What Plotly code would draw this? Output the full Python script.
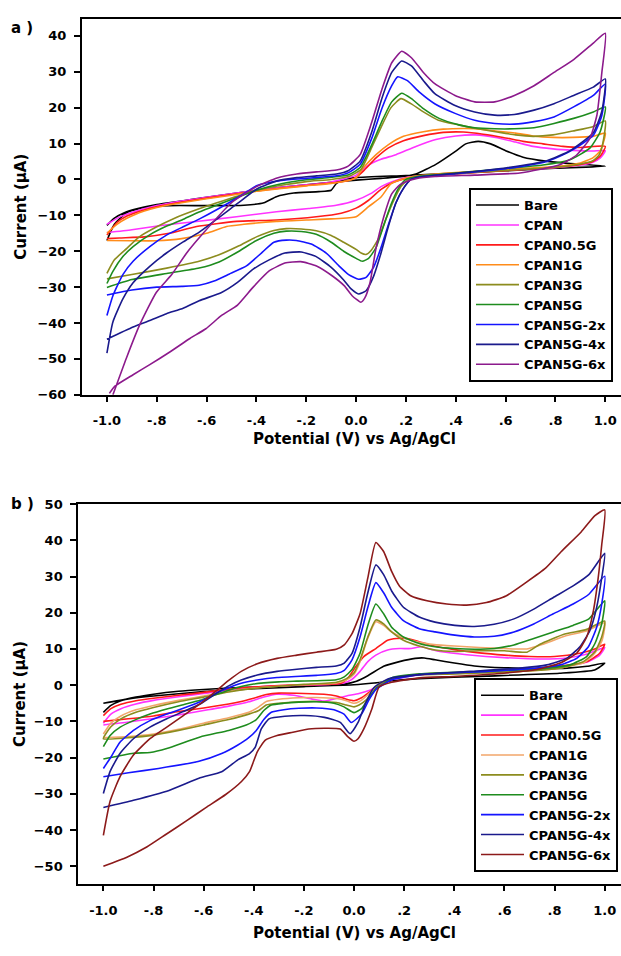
import plotly.graph_objects as go

# ---------------- Panel a data (potential V, current uA) ----------------
a_bare_E = [-1.0, -0.97, -0.93, -0.88, -0.8, -0.7, -0.6, -0.5, -0.4, -0.3, -0.2, -0.1, 0.0, 0.1, 0.2, 0.24, 0.32, 0.4, 0.44, 0.49, 0.54, 0.6, 0.67, 0.76, 0.86, 1.0,
            0.8, 0.6, 0.4, 0.2, 0.0, -0.05, -0.08, -0.1, -0.15, -0.25, -0.32, -0.37, -0.45, -0.6, -0.75, -0.85, -0.92, -0.97, -1.0]
a_bare_I = [-12.8, -10.8, -9.3, -8.2, -7.0, -6.0, -5.0, -4.0, -3.0, -2.2, -1.5, -0.8, -0.2, 0.3, 0.9, 1.5, 4.2, 7.9, 9.9, 10.6, 9.9, 8.0, 6.2, 5.1, 4.4, 3.7,
            3.1, 2.4, 1.8, 1.1, 0.5, 0.0, -1.2, -3.0, -3.4, -3.8, -4.8, -6.5, -7.2, -7.3, -7.3, -7.8, -9.2, -12.5, -17.0]

a_cpan_E = [-1.0, -0.95, -0.9, -0.8, -0.7, -0.6, -0.5, -0.4, -0.3, -0.2, -0.1, 0.0, 0.05, 0.1, 0.16, 0.24, 0.32, 0.4, 0.48, 0.56, 0.64, 0.71, 0.79, 0.87, 0.95, 1.0,
            0.98, 0.95, 0.9, 0.8, 0.7, 0.5, 0.3, 0.2, 0.15, 0.1, 0.06, 0.0, -0.08, -0.19, -0.32, -0.48, -0.64, -0.79, -0.9, -1.0]
a_cpan_I = [-12.5, -10.5, -9.2, -7.3, -6.0, -5.0, -4.0, -3.0, -2.2, -1.5, -0.7, 1.2, 4.0, 5.6, 6.9, 9.2, 11.1, 12.1, 12.4, 11.7, 10.4, 9.2, 8.5, 8.1, 7.9, 8.0,
            6.0, 4.8, 4.0, 3.3, 2.9, 2.2, 1.2, 0.5, -0.5, -2.0, -3.9, -5.8, -7.2, -8.1, -9.0, -10.4, -11.7, -12.9, -14.0, -14.8]

a_cpan05_E = [-1.0, -0.96, -0.92, -0.85, -0.8, -0.7, -0.6, -0.5, -0.4, -0.3, -0.2, -0.1, -0.03, 0.0, 0.03, 0.08, 0.13, 0.19, 0.27, 0.35, 0.43, 0.51, 0.59, 0.67, 0.75, 0.83, 0.9, 1.0,
              0.98, 0.95, 0.9, 0.8, 0.7, 0.5, 0.3, 0.2, 0.15, 0.1, 0.05, 0.0, -0.06, -0.16, -0.32, -0.48, -0.64, -0.75, -0.85, -0.95, -1.0]
a_cpan05_I = [-15.5, -12.0, -10.2, -8.5, -7.6, -6.3, -5.2, -4.2, -3.2, -2.4, -1.7, -1.0, -0.3, 0.6, 2.4, 6.0, 8.8, 10.8, 12.2, 13.1, 13.2, 12.6, 11.7, 10.6, 9.9, 9.2, 8.9, 9.2,
              6.5, 5.0, 4.2, 3.4, 2.9, 2.0, 1.0, 0.3, -0.8, -2.8, -5.8, -8.0, -9.4, -10.4, -11.3, -11.7, -13.1, -15.0, -16.0, -16.3, -16.5]

a_cpan1_E = [-1.0, -0.96, -0.92, -0.85, -0.8, -0.7, -0.6, -0.5, -0.4, -0.3, -0.2, -0.1, -0.03, 0.0, 0.03, 0.08, 0.13, 0.19, 0.27, 0.35, 0.43, 0.48, 0.56, 0.64, 0.71, 0.79, 0.87, 0.95, 1.0,
             0.98, 0.95, 0.9, 0.8, 0.6, 0.4, 0.25, 0.18, 0.14, 0.1, 0.05, 0.0, -0.1, -0.2, -0.32, -0.45, -0.52, -0.6, -0.7, -0.8, -0.9, -1.0]
a_cpan1_I = [-15.0, -12.5, -10.8, -8.8, -7.8, -6.5, -5.4, -4.4, -3.3, -2.5, -1.8, -1.1, -0.3, 0.5, 3.3, 6.9, 9.7, 12.0, 13.3, 14.0, 14.2, 14.1, 13.5, 12.9, 12.1, 11.7, 11.7, 12.0, 12.9,
             8.0, 6.0, 4.6, 3.6, 2.8, 1.9, 1.0, 0.0, -1.2, -4.9, -7.6, -10.4, -11.0, -11.3, -11.7, -12.5, -13.1, -15.0, -16.5, -17.1, -17.1, -17.0]

a_cpan3_E = [-1.0, -0.97, -0.92, -0.87, -0.8, -0.735, -0.63, -0.5, -0.4, -0.3, -0.2, -0.1, -0.03, 0.02, 0.06, 0.1, 0.14, 0.18, 0.22, 0.27, 0.33, 0.41, 0.48, 0.56, 0.64, 0.71, 0.79, 0.87, 0.95, 1.0,
             0.99, 0.975, 0.95, 0.9, 0.8, 0.6, 0.4, 0.25, 0.21, 0.18, 0.15, 0.12, 0.09, 0.06, 0.04, 0.02, 0.0, -0.05, -0.1, -0.16, -0.22, -0.28, -0.33, -0.4, -0.47, -0.55, -0.63, -0.76, -0.9, -1.0]
a_cpan3_I = [-26.2, -22.4, -19.2, -16.0, -13.2, -11.0, -8.2, -5.2, -3.0, -1.6, -0.6, 0.0, 0.8, 2.8, 8.5, 14.5, 20.0, 22.5, 21.1, 18.8, 16.5, 15.2, 14.2, 13.3, 12.4, 12.0, 12.4, 13.5, 14.7, 16.3,
             10.0, 6.8, 5.2, 4.3, 3.4, 2.5, 1.6, 0.8, 0.0, -2.0, -6.0, -11.0, -16.5, -19.8, -20.9, -20.5, -19.5, -17.5, -15.6, -14.3, -13.8, -13.7, -14.2, -16.0, -18.5, -21.0, -22.8, -24.7, -26.5, -27.7]

a_cpan5_E = [-1.0, -0.976, -0.936, -0.895, -0.83, -0.76, -0.69, -0.63, -0.5, -0.4, -0.3, -0.2, -0.1, -0.03, 0.016, 0.063, 0.103, 0.143, 0.183, 0.222, 0.27, 0.333, 0.413, 0.476, 0.556, 0.635, 0.714, 0.794, 0.873, 0.952, 1.0,
             0.979, 0.938, 0.858, 0.75, 0.6, 0.4, 0.25, 0.2, 0.17, 0.14, 0.11, 0.08, 0.05, 0.025, 0.0, -0.05, -0.1, -0.16, -0.22, -0.28, -0.33, -0.4, -0.47, -0.55, -0.63, -0.76, -0.9, -1.0]
a_cpan5_I = [-29.0, -25.6, -21.5, -18.7, -15.5, -13.0, -11.0, -9.1, -5.6, -3.0, -1.2, -0.1, 0.6, 1.3, 3.3, 9.7, 16.1, 21.6, 24.0, 22.5, 19.7, 17.0, 15.2, 14.4, 14.1, 14.1, 14.4, 15.6, 17.0, 18.8, 20.2,
             13.2, 8.7, 5.5, 4.0, 3.0, 1.8, 0.9, 0.0, -2.5, -7.0, -13.0, -19.0, -22.0, -22.8, -22.0, -20.0, -17.5, -15.3, -14.5, -14.4, -15.0, -17.0, -20.0, -23.0, -24.7, -26.2, -27.9, -30.1]

a_2x_E = [-1.0, -0.976, -0.936, -0.895, -0.828, -0.761, -0.694, -0.628, -0.476, -0.397, -0.3, -0.2, -0.08, -0.03, 0.016, 0.063, 0.103, 0.143, 0.167, 0.206, 0.254, 0.317, 0.397, 0.476, 0.556, 0.635, 0.714, 0.794, 0.873, 0.952, 1.0,
          0.986, 0.952, 0.858, 0.765, 0.6, 0.4, 0.25, 0.22, 0.19, 0.16, 0.13, 0.1, 0.07, 0.04, 0.01, -0.03, -0.07, -0.12, -0.18, -0.24, -0.28, -0.33, -0.38, -0.44, -0.51, -0.57, -0.63, -0.7, -0.8, -0.9, -1.0]
a_2x_I = [-37.9, -32.4, -26.5, -22.8, -18.7, -15.5, -13.2, -11.0, -5.1, -1.7, -0.3, 0.3, 1.0, 1.9, 4.2, 11.5, 19.7, 26.1, 28.6, 27.5, 24.3, 21.0, 18.4, 16.5, 15.6, 15.4, 16.1, 17.4, 20.2, 23.4, 26.6,
          17.8, 12.3, 7.8, 5.0, 3.0, 1.6, 0.6, 0.0, -2.5, -6.5, -12.5, -19.0, -24.5, -27.3, -27.8, -26.5, -24.0, -20.5, -18.0, -17.0, -16.9, -17.5, -20.5, -24.1, -26.4, -28.3, -29.5, -29.8, -30.0, -30.8, -32.2]

a_4x_E = [-1.0, -0.976, -0.936, -0.895, -0.828, -0.761, -0.694, -0.628, -0.476, -0.397, -0.317, -0.238, -0.159, -0.079, -0.032, 0.016, 0.063, 0.103, 0.143, 0.183, 0.222, 0.27, 0.317, 0.397, 0.476, 0.556, 0.635, 0.714, 0.794, 0.873, 0.952, 1.0,
          0.986, 0.952, 0.858, 0.765, 0.6, 0.4, 0.25, 0.22, 0.19, 0.16, 0.13, 0.1, 0.07, 0.04, 0.01, -0.02, -0.05, -0.1, -0.16, -0.22, -0.286, -0.349, -0.413, -0.476, -0.54, -0.63, -0.694, -0.761, -0.828, -0.895, -1.0]
a_4x_I = [-48.4, -39.7, -33.3, -28.8, -24.2, -20.5, -17.4, -14.6, -6.7, -2.6, -0.4, 0.5, 1.0, 1.5, 2.4, 5.1, 13.3, 22.5, 29.8, 33.0, 31.6, 27.5, 23.8, 20.6, 18.8, 17.9, 18.1, 19.3, 21.1, 23.4, 25.7, 28.0,
          19.0, 13.0, 8.0, 5.2, 3.2, 1.7, 0.6, 0.0, -2.5, -6.5, -13.0, -20.5, -27.0, -31.0, -31.9, -30.5, -28.0, -24.5, -21.5, -20.2, -20.5, -22.4, -25.0, -28.7, -31.5, -33.8, -35.9, -37.4, -39.3, -41.1, -44.5]

a_6x_E = [-0.976, -0.922, -0.869, -0.802, -0.74, -0.68, -0.62, -0.5, -0.4, -0.317, -0.238, -0.159, -0.079, -0.032, 0.016, 0.063, 0.103, 0.143, 0.183, 0.222, 0.27, 0.317, 0.397, 0.476, 0.556, 0.635, 0.714, 0.794, 0.873, 0.952, 1.0,
          0.986, 0.966, 0.938, 0.885, 0.818, 0.657, 0.476, 0.317, 0.24, 0.206, 0.175, 0.143, 0.111, 0.079, 0.056, 0.035, 0.019, -0.016, -0.048, -0.095, -0.159, -0.222, -0.286, -0.349, -0.413, -0.476, -0.54, -0.603, -0.667, -0.746, -0.828, -0.895, -0.968, -0.99]
a_6x_I = [-60.0, -49.8, -40.6, -31.5, -26.5, -20.5, -15.5, -6.5, -2.0, 0.4, 1.5, 2.1, 2.6, 3.7, 6.9, 16.0, 25.0, 32.5, 35.7, 33.9, 29.8, 26.6, 23.4, 21.6, 21.6, 23.4, 26.1, 29.8, 33.4, 38.0, 40.7,
          29.7, 17.8, 11.4, 6.8, 4.1, 1.8, 1.2, 0.8, 0.2, -0.5, -1.5, -4.0, -10.4, -19.5, -28.7, -33.0, -34.2, -32.4, -29.6, -26.9, -24.1, -22.9, -23.3, -25.5, -30.0, -35.0, -37.9, -41.6, -44.3, -48.0, -51.6, -54.4, -57.6, -59.6]

# ---------------- Panel b data ----------------
b_bare_E = [-1.0, -0.97, -0.93, -0.87, -0.8, -0.7, -0.6, -0.5, -0.4, -0.3, -0.2, -0.1, -0.04, 0.01, 0.055, 0.118, 0.181, 0.244, 0.28, 0.323, 0.4, 0.48, 0.6, 0.73, 0.85, 0.93, 1.0,
            0.96, 0.82, 0.53, 0.26, 0.15, 0.08, 0.0, -0.2, -0.4, -0.6, -0.8, -0.9, -1.0]
b_bare_I = [-7.5, -5.6, -4.3, -3.3, -2.5, -1.7, -1.2, -0.8, -0.5, -0.3, -0.2, 0.0, 0.3, 1.1, 2.6, 5.2, 6.5, 7.4, 7.5, 7.0, 6.1, 5.3, 4.8, 4.6, 4.7, 5.2, 6.1,
            4.2, 3.3, 2.5, 1.8, 1.2, 0.6, 0.1, -0.4, -1.0, -1.8, -3.0, -3.8, -5.0]

b_cpan_E = [-1.0, -0.97, -0.93, -0.87, -0.8, -0.7, -0.6, -0.5, -0.4, -0.3, -0.2, -0.1, -0.04, -0.01, 0.024, 0.055, 0.087, 0.134, 0.181, 0.228, 0.268, 0.3, 0.35, 0.45, 0.6, 0.75, 0.85, 0.93, 1.0,
            0.98, 0.93, 0.8, 0.6, 0.4, 0.26, 0.15, 0.1, 0.06, 0.02, -0.03, -0.08, -0.12, -0.17, -0.24, -0.31, -0.36, -0.42, -0.5, -0.6, -0.7, -0.8, -0.9, -1.0]
b_cpan_I = [-10.5, -8.0, -6.5, -5.2, -4.2, -3.2, -2.3, -1.3, -0.6, -0.2, 0.0, 0.2, 0.6, 1.5, 3.8, 6.5, 8.3, 9.7, 10.1, 10.1, 10.6, 10.0, 9.2, 8.4, 7.6, 7.2, 7.5, 8.6, 10.4,
            8.3, 6.4, 5.0, 4.0, 3.3, 2.8, 1.5, 0.0, -1.5, -2.3, -3.0, -3.8, -4.4, -3.8, -2.8, -2.5, -3.3, -4.6, -5.8, -7.0, -8.2, -9.2, -10.2, -11.0]

b_cpan05_E = [-1.0, -0.97, -0.93, -0.87, -0.8, -0.7, -0.6, -0.5, -0.4, -0.3, -0.2, -0.08, -0.05, -0.024, 0.008, 0.039, 0.087, 0.134, 0.17, 0.213, 0.26, 0.32, 0.4, 0.5, 0.6, 0.7, 0.8, 0.9, 0.96, 1.0,
              0.98, 0.93, 0.8, 0.6, 0.4, 0.26, 0.15, 0.1, 0.06, 0.03, 0.0, -0.03, -0.07, -0.12, -0.2, -0.3, -0.35, -0.4, -0.45, -0.5, -0.6, -0.7, -0.8, -0.9, -1.0]
b_cpan05_I = [-8.4, -6.5, -5.3, -4.3, -3.6, -2.8, -2.0, -1.1, -0.5, -0.1, 0.1, 0.3, 0.6, 2.0, 5.2, 7.9, 10.1, 12.4, 12.9, 12.9, 12.0, 10.8, 9.8, 8.9, 8.3, 7.9, 7.9, 8.8, 10.0, 11.3,
              8.8, 6.5, 5.0, 4.0, 3.4, 3.0, 1.8, 0.2, -2.0, -3.5, -4.3, -3.9, -3.0, -2.5, -2.3, -2.2, -2.6, -3.6, -4.5, -5.2, -6.3, -7.3, -8.5, -9.3, -10.0]

b_cpan1_E = [-1.0, -0.97, -0.93, -0.87, -0.8, -0.7, -0.6, -0.5, -0.4, -0.3, -0.2, -0.07, -0.03, 0.0, 0.024, 0.055, 0.087, 0.118, 0.15, 0.2, 0.26, 0.32, 0.4, 0.5, 0.6, 0.69, 0.75, 0.84, 0.93, 1.0,
             0.99, 0.96, 0.92, 0.82, 0.66, 0.4, 0.26, 0.15, 0.1, 0.08, 0.05, 0.02, 0.0, -0.03, -0.07, -0.15, -0.22, -0.3, -0.35, -0.38, -0.42, -0.5, -0.6, -0.7, -0.8, -0.9, -1.0]
b_cpan1_I = [-13.5, -10.5, -8.5, -6.8, -5.6, -4.2, -3.0, -1.7, -0.8, -0.3, 0.1, 0.6, 1.5, 3.0, 6.5, 13.0, 17.5, 16.5, 14.7, 13.0, 11.8, 11.2, 10.8, 10.4, 10.1, 10.0, 11.2, 13.5, 15.0, 17.2,
             12.5, 8.8, 6.3, 4.7, 3.8, 3.2, 2.9, 1.8, 0.4, -1.0, -3.0, -4.6, -5.0, -4.3, -3.7, -3.4, -3.5, -3.9, -4.5, -6.0, -7.5, -9.0, -10.5, -12.2, -13.5, -14.2, -14.5]

b_cpan3_E = [-1.0, -0.97, -0.93, -0.87, -0.8, -0.7, -0.6, -0.5, -0.4, -0.3, -0.2, -0.07, -0.03, 0.0, 0.024, 0.055, 0.087, 0.118, 0.15, 0.197, 0.26, 0.323, 0.4, 0.5, 0.6, 0.69, 0.742, 0.835, 0.928, 1.0,
             0.988, 0.961, 0.915, 0.822, 0.662, 0.4, 0.263, 0.15, 0.1, 0.08, 0.05, 0.02, 0.0, -0.03, -0.07, -0.15, -0.22, -0.3, -0.35, -0.38, -0.42, -0.5, -0.6, -0.7, -0.8, -0.9, -1.0]
b_cpan3_I = [-14.8, -11.5, -9.3, -7.5, -6.2, -4.6, -3.3, -1.9, -0.9, -0.3, 0.2, 0.8, 1.8, 3.4, 7.0, 13.3, 18.0, 16.9, 14.7, 12.4, 10.8, 9.7, 9.3, 9.5, 9.5, 9.1, 11.3, 14.0, 15.4, 17.7,
             13.3, 9.2, 6.5, 4.7, 3.8, 3.1, 2.9, 1.8, 0.3, -1.5, -4.0, -5.5, -6.0, -5.5, -4.8, -4.5, -4.6, -5.0, -5.5, -7.0, -8.0, -9.5, -11.0, -12.5, -13.8, -14.5, -14.8]

b_cpan5_E = [-1.0, -0.973, -0.933, -0.88, -0.814, -0.747, -0.681, -0.614, -0.55, -0.5, -0.45, -0.4, -0.3, -0.228, -0.071, -0.039, -0.008, 0.024, 0.055, 0.087, 0.118, 0.15, 0.197, 0.26, 0.323, 0.402, 0.48, 0.559, 0.638, 0.717, 0.795, 0.874, 0.937, 1.0,
             0.988, 0.961, 0.928, 0.862, 0.769, 0.529, 0.263, 0.15, 0.12, 0.09, 0.06, 0.03, 0.0, -0.04, -0.08, -0.15, -0.22, -0.28, -0.33, -0.36, -0.39, -0.43, -0.5, -0.614, -0.747, -0.814, -0.88, -1.0]
b_cpan5_I = [-17.0, -13.9, -11.6, -9.8, -8.0, -6.6, -5.4, -4.2, -2.6, -1.4, -0.4, 0.3, 0.9, 1.1, 1.5, 2.3, 4.3, 8.8, 16.5, 22.4, 19.7, 16.0, 13.3, 11.5, 10.6, 10.1, 9.9, 10.1, 11.1, 12.9, 14.7, 16.5, 18.3, 23.3,
             16.9, 11.5, 7.9, 5.6, 4.7, 3.8, 3.1, 2.0, 0.5, -0.8, -3.5, -6.5, -7.6, -6.0, -5.0, -4.6, -4.7, -5.0, -5.5, -7.0, -9.5, -11.0, -12.5, -14.3, -17.5, -18.6, -18.8, -20.4]

b_2x_E = [-1.0, -0.973, -0.933, -0.88, -0.814, -0.747, -0.681, -0.614, -0.55, -0.5, -0.45, -0.386, -0.307, -0.15, -0.071, -0.039, -0.008, 0.024, 0.055, 0.087, 0.118, 0.15, 0.197, 0.26, 0.323, 0.402, 0.48, 0.559, 0.638, 0.717, 0.795, 0.874, 0.937, 1.0,
          0.988, 0.968, 0.935, 0.888, 0.822, 0.729, 0.529, 0.263, 0.15, 0.12, 0.09, 0.06, 0.03, -0.011, -0.04, -0.08, -0.15, -0.22, -0.28, -0.33, -0.36, -0.39, -0.42, -0.465, -0.528, -0.622, -0.78, -0.9, -1.0]
b_2x_I = [-23.0, -20.2, -15.7, -12.5, -9.8, -8.0, -6.4, -4.6, -2.2, -0.7, 0.5, 1.4, 2.1, 2.7, 3.2, 4.1, 7.0, 13.3, 21.5, 28.3, 25.5, 21.5, 17.8, 15.6, 14.7, 13.8, 13.3, 13.5, 14.7, 16.9, 19.7, 22.4, 25.1, 30.1,
          22.4, 16.0, 10.6, 7.4, 5.6, 4.7, 3.8, 2.9, 1.5, 0.3, -1.0, -4.0, -8.0, -10.3, -8.0, -6.8, -6.3, -6.4, -6.8, -7.5, -9.5, -12.5, -14.5, -16.6, -18.9, -21.1, -23.0, -24.2, -25.3]

b_4x_E = [-1.0, -0.973, -0.933, -0.88, -0.814, -0.747, -0.681, -0.614, -0.55, -0.5, -0.45, -0.386, -0.307, -0.228, -0.15, -0.071, -0.039, -0.008, 0.024, 0.055, 0.087, 0.118, 0.15, 0.197, 0.26, 0.323, 0.402, 0.48, 0.559, 0.638, 0.717, 0.795, 0.874, 0.937, 1.0,
          0.988, 0.968, 0.941, 0.901, 0.848, 0.769, 0.662, 0.463, 0.263, 0.15, 0.118, 0.079, 0.047, 0.016, -0.016, -0.055, -0.118, -0.197, -0.276, -0.339, -0.37, -0.394, -0.417, -0.465, -0.528, -0.614, -0.747, -0.88, -1.0]
b_4x_I = [-29.9, -23.8, -18.8, -14.8, -11.6, -9.3, -7.3, -5.2, -2.3, -0.2, 1.4, 2.8, 3.8, 4.4, 4.9, 5.3, 6.1, 8.8, 16.0, 25.5, 33.2, 30.5, 26.0, 21.5, 18.8, 17.4, 16.5, 16.2, 16.8, 18.3, 21.0, 24.2, 27.4, 30.5, 36.4,
          29.6, 21.5, 15.1, 10.6, 7.4, 5.6, 4.7, 3.8, 2.9, 2.0, 1.1, -0.7, -4.8, -10.3, -13.4, -10.3, -8.9, -8.4, -8.6, -9.3, -12.1, -17.1, -18.9, -20.7, -23.9, -25.6, -29.3, -31.8, -33.8]

b_6x_E = [-1.0, -0.973, -0.933, -0.88, -0.814, -0.747, -0.681, -0.614, -0.55, -0.5, -0.45, -0.386, -0.307, -0.228, -0.15, -0.071, -0.039, -0.008, 0.024, 0.055, 0.087, 0.118, 0.15, 0.181, 0.228, 0.291, 0.37, 0.449, 0.528, 0.606, 0.685, 0.764, 0.827, 0.906, 0.961, 1.0,
          0.988, 0.974, 0.955, 0.928, 0.888, 0.822, 0.729, 0.596, 0.396, 0.263, 0.15, 0.1, 0.071, 0.039, 0.016, 0.0, -0.024, -0.055, -0.118, -0.181, -0.244, -0.307, -0.354, -0.386, -0.417, -0.449, -0.512, -0.591, -0.669, -0.748, -0.827, -0.906, -1.0]
b_6x_I = [-41.5, -32.0, -25.2, -19.3, -14.8, -11.6, -8.4, -5.2, -1.6, 1.3, 3.8, 5.9, 7.4, 8.3, 9.1, 9.9, 11.1, 14.2, 19.7, 29.6, 39.4, 36.9, 31.4, 27.4, 24.6, 23.3, 22.4, 22.1, 22.8, 24.6, 28.3, 32.3, 36.9, 42.3, 46.8, 48.4,
          38.7, 29.6, 20.6, 13.3, 8.8, 6.1, 4.3, 3.3, 2.4, 2.0, 0.8, -0.5, -6.6, -12.1, -14.8, -15.5, -14.3, -12.1, -11.9, -12.1, -13.0, -13.9, -15.2, -18.4, -23.9, -26.6, -30.2, -33.8, -37.5, -41.1, -44.7, -47.5, -50.0]

# ---------------- Names, colours, ticks ----------------
series_names = ["Bare", "CPAN", "CPAN0.5G", "CPAN1G", "CPAN3G", "CPAN5G", "CPAN5G-2x", "CPAN5G-4x", "CPAN5G-6x"]
colors_a = ["#000000", "#FF33FF", "#FF1A1A", "#FF8C1A", "#8C8C1E", "#1E8C1E", "#1414FF", "#1A1A8C", "#8C1A8C"]
colors_b = ["#000000", "#FF33FF", "#FF1A1A", "#F2A66A", "#8C8C1E", "#1E8C1E", "#1414FF", "#1A1A8C", "#8C1A1A"]
x_tickvals = [-1.0, -0.8, -0.6, -0.4, -0.2, 0.0, 0.2, 0.4, 0.6, 0.8, 1.0]
x_ticktext = ["-1.0", "-.8", "-.6", "-.4", "-.2", "0.0", ".2", ".4", ".6", ".8", "1.0"]
ya_tickvals = [-60, -50, -40, -30, -20, -10, 0, 10, 20, 30, 40]
yb_tickvals = [-50, -40, -30, -20, -10, 0, 10, 20, 30, 40, 50]

panel_a = [(a_bare_E, a_bare_I), (a_cpan_E, a_cpan_I), (a_cpan05_E, a_cpan05_I), (a_cpan1_E, a_cpan1_I),
           (a_cpan3_E, a_cpan3_I), (a_cpan5_E, a_cpan5_I), (a_2x_E, a_2x_I), (a_4x_E, a_4x_I), (a_6x_E, a_6x_I)]
panel_b = [(b_bare_E, b_bare_I), (b_cpan_E, b_cpan_I), (b_cpan05_E, b_cpan05_I), (b_cpan1_E, b_cpan1_I),
           (b_cpan3_E, b_cpan3_I), (b_cpan5_E, b_cpan5_I), (b_2x_E, b_2x_I), (b_4x_E, b_4x_I), (b_6x_E, b_6x_I)]

W, H = 621, 956
FONT = "DejaVu Sans"

fig = go.Figure()
for name, col, (E, I) in zip(series_names, colors_a, panel_a):
    fig.add_trace(go.Scatter(x=E, y=I, mode="lines", name=name, xaxis="x", yaxis="y", legend="legend",
                             line=dict(color=col, width=1.6, shape="spline", smoothing=0.5)))
for name, col, (E, I) in zip(series_names, colors_b, panel_b):
    fig.add_trace(go.Scatter(x=E, y=I, mode="lines", name=name, xaxis="x2", yaxis="y2", legend="legend2",
                             line=dict(color=col, width=1.6, shape="spline", smoothing=0.5)))

def px_x(p):
    return p / W

def px_y(p):
    return 1 - p / H

common_x = dict(showline=True, linecolor="black", linewidth=2, mirror=True, ticks="outside", ticklen=5,
                tickwidth=1.5, tickcolor="black", showgrid=False, zeroline=False,
                tickvals=x_tickvals, ticktext=x_ticktext, ticklabelstandoff=8,
                tickfont=dict(family=FONT, size=13, color="black", weight="bold"))
common_y = dict(showline=True, linecolor="black", linewidth=2, mirror=False, ticks="outside", ticklen=6,
                tickwidth=1.5, tickcolor="black", showgrid=False, zeroline=False, ticklabelstandoff=5,
                tickfont=dict(family=FONT, size=13, color="black", weight="bold"))

legend_common = dict(xanchor="left", yanchor="top", bgcolor="white", bordercolor="black", borderwidth=2,
                     itemwidth=43, font=dict(family=FONT, size=13, color="black", weight="bold"),
                     tracegroupgap=0)

fig.update_layout(
    width=W, height=H, margin=dict(l=0, r=0, t=0, b=0),
    paper_bgcolor="white", plot_bgcolor="white", showlegend=True,
    font=dict(family=FONT, size=13, color="black", weight="bold"),
    xaxis=dict(domain=[px_x(82), 1.0], range=[-1.1, 1.063], anchor="y", **common_x),
    yaxis=dict(domain=[px_y(394), px_y(12)], range=[-60, 44.74], anchor="x", tickvals=ya_tickvals, **common_y),
    xaxis2=dict(domain=[px_x(78.3), 1.0], range=[-1.1, 1.065], anchor="y2", **common_x),
    yaxis2=dict(domain=[px_y(891.3), px_y(505)], range=[-55, 50], anchor="x2", tickvals=yb_tickvals, **common_y),
    legend=dict(x=px_x(469), y=px_y(184), **legend_common),
    legend2=dict(x=px_x(474), y=px_y(682), **legend_common),
)

title_font = dict(family=FONT, size=15, color="black", weight="bold")
annots = [
    dict(text="a )", x=px_x(22), y=px_y(21)),
    dict(text="b )", x=px_x(22), y=px_y(505)),
    dict(text="Potential (V) vs Ag/AgCl", x=px_x(354), y=px_y(439)),
    dict(text="Potential (V) vs Ag/AgCl", x=px_x(354), y=px_y(941)),
    dict(text="Current (\u03bcA)", x=px_x(21), y=px_y(203), textangle=-90),
    dict(text="Current (\u03bcA)", x=px_x(20), y=px_y(698), textangle=-90),
]
for a in annots:
    fig.add_annotation(xref="paper", yref="paper", showarrow=False, xanchor="center", yanchor="middle",
                       font=title_font, **a)

fig.write_html("out.html", config={"displayModeBar": False},
               post_script="document.body.style.margin='0';")
